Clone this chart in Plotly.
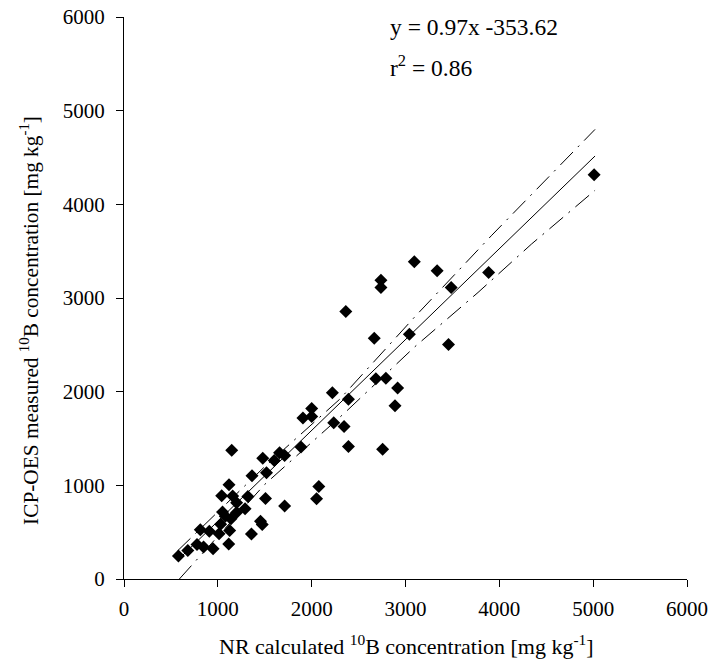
import plotly.graph_objects as go

nr_calc = [5010, 3886, 3487, 3458, 3337, 3094, 3041, 2738, 2738, 2667, 2684, 2791,
           2916, 2888, 2756, 2364, 2392, 2345, 2392, 2221, 2235, 2000, 2000, 1907,
           1886, 2076, 2052, 1712, 1712, 1658, 1601, 1479, 1519, 1508, 1455, 1473,
           1358, 1364, 1148, 1119, 1041, 1158, 1200, 1320, 1290, 1200, 1050, 1080,
           1140, 1030, 1126, 1013, 909, 813, 1116, 949, 848, 778, 680, 580]
icp_meas = [4316, 3273, 3112, 2503, 3290, 3386, 2613, 3190, 3112, 2570, 2139, 2142,
            2039, 1850, 1386, 2856, 1918, 1629, 1415, 1989, 1668, 1821, 1736, 1718,
            1408, 987, 858, 1319, 780, 1348, 1266, 1290, 1134, 859, 616, 581,
            481, 1103, 1375, 1007, 889, 887, 813, 880, 749, 710, 714, 670,
            643, 585, 518, 484, 509, 527, 374, 323, 342, 368, 304, 245]

# Regression (from the reported equation)
slope = 0.97
intercept = -353.62
fit_x = [580, 5020]

# Confidence band lines
upper_x = [570, 1500, 2300, 3100, 3914, 5020]
upper_y = [300, 1200, 1920, 2800, 3664, 4800]
lower_x = [590, 1500, 2353, 3100, 3773, 4342, 5020]
lower_y = [0, 1010, 1775, 2480, 3059, 3575, 4150]

x_ticks = [0, 1000, 2000, 3000, 4000, 5000, 6000]
y_ticks = [0, 1000, 2000, 3000, 4000, 5000, 6000]

x_title = "NR calculated <sup>10</sup>B concentration [mg kg<sup>-1</sup>]"
y_title = "ICP-OES measured <sup>10</sup>B concentration [mg kg<sup>-1</sup>]"
eq_text = "y = 0.97x -353.62"
r2_text = "r<sup>2</sup> = 0.86"

FONT = "Liberation Serif"

fig = go.Figure()
for bx, by in ((upper_x, upper_y), (lower_x, lower_y)):
    fig.add_trace(go.Scatter(x=bx, y=by, mode="lines",
                             line=dict(color="black", width=1, dash="18px,7px,2px,7px"),
                             hoverinfo="skip", showlegend=False))
fig.add_trace(go.Scatter(x=fit_x, y=[slope * v + intercept for v in fit_x], mode="lines",
                         line=dict(color="black", width=1),
                         hoverinfo="skip", showlegend=False))
fig.add_trace(go.Scatter(x=nr_calc, y=icp_meas, mode="markers",
                         marker=dict(symbol="diamond", size=10, color="black",
                                     line=dict(width=0)),
                         showlegend=False))

axis_common = dict(
    range=[0, 6000], ticks="outside", ticklen=7, tickwidth=1, automargin=False,
    tickcolor="black", showline=True, linecolor="black", linewidth=1,
    showgrid=False, zeroline=False, tickfont=dict(family=FONT, size=21, color="black"),
)
fig.update_xaxes(**axis_common, tickvals=x_ticks, ticklabelstandoff=4)
fig.update_yaxes(**axis_common, tickvals=y_ticks, ticklabelstandoff=7)

fig.add_annotation(x=0.501, y=-0.117, xref="paper", yref="paper", xanchor="center",
                   yanchor="middle", showarrow=False, text=x_title,
                   font=dict(family=FONT, size=22, color="black"))
fig.add_annotation(x=-0.167, y=0.461, xref="paper", yref="paper", xanchor="center",
                   yanchor="middle", showarrow=False, text=y_title, textangle=-90,
                   font=dict(family=FONT, size=21.3, color="black"))
fig.add_annotation(x=0.469, y=0.982, xref="paper", yref="paper", xanchor="left",
                   yanchor="middle", showarrow=False, text=eq_text,
                   font=dict(family=FONT, size=23.5, color="black"))
fig.add_annotation(x=0.469, y=0.913, xref="paper", yref="paper", xanchor="left",
                   yanchor="middle", showarrow=False, text=r2_text,
                   font=dict(family=FONT, size=23.5, color="black"))

fig.update_layout(width=709, height=666, margin=dict(l=124, r=22, t=17, b=87),
                  plot_bgcolor="white", paper_bgcolor="white",
                  font=dict(family=FONT, color="black"))

fig.write_html("out.html")
